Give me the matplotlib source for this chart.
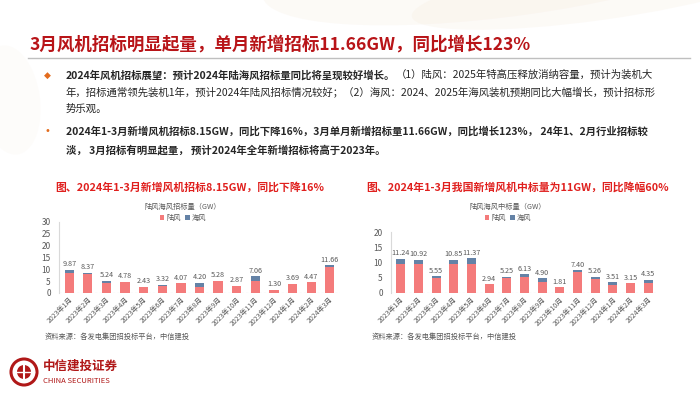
import numpy as np
import matplotlib
matplotlib.use("Agg")
import matplotlib.pyplot as plt
from matplotlib.patches import Ellipse, Circle

plt.rcParams['font.family'] = ['Noto Sans CJK SC', 'DejaVu Sans']
plt.rcParams['axes.unicode_minus'] = False

# ---- data ----
months = ["2023年1月", "2023年2月", "2023年3月", "2023年4月", "2023年5月", "2023年6月",
          "2023年7月", "2023年8月", "2023年9月", "2023年10月", "2023年11月", "2023年12月",
          "2024年1月", "2024年2月", "2024年3月"]

# left chart: tendering volume (GW)
tender_total = [9.87, 8.37, 5.24, 4.78, 2.43, 3.32, 4.07, 4.20, 5.28, 2.87, 7.06, 1.30, 3.69, 4.47, 11.66]
tender_offshore = [1.5, 0.3, 1.2, 0.0, 0.0, 0.5, 0.0, 1.5, 0.0, 0.0, 1.8, 0.0, 0.0, 0.0, 0.5]
tender_onshore = [round(t - o, 2) for t, o in zip(tender_total, tender_offshore)]

# right chart: winning bid volume (GW)
win_total = [11.24, 10.92, 5.55, 10.85, 11.37, 2.94, 5.25, 6.13, 4.90, 1.81, 7.40, 5.26, 3.51, 3.15, 4.35]
win_offshore = [1.7, 1.4, 0.5, 1.5, 1.8, 0.0, 0.2, 1.0, 1.3, 0.0, 0.5, 0.8, 0.8, 0.0, 1.0]
win_onshore = [round(t - o, 2) for t, o in zip(win_total, win_offshore)]

ON_COLOR = "#F47B7B"
OFF_COLOR = "#6482A6"
TXT = "#262626"
GREY = "#595959"

W, H = 700, 394
fig = plt.figure(figsize=(7, 3.94), dpi=100)
fig.patch.set_facecolor("white")


def fx(px):
    return px / W


def fy(py):
    return 1 - py / H


# faint decorative swoosh at the top
bg = fig.add_axes([0, 0, 1, 1], zorder=-5)
bg.set_xlim(0, W)
bg.set_ylim(H, 0)
bg.axis("off")
for cx, cy, w, h, a in [(520, -40, 520, 110, 0.2), (600, -10, 380, 60, 0.2), (10, 100, 60, 110, 0.1)]:
    bg.add_patch(Ellipse((cx, cy), w, h, angle=-8, facecolor="#F3E6D6", edgecolor="none", alpha=a))

# slide title
fig.text(fx(30), fy(45), "3月风机招标明显起量，单月新增招标11.66GW，同比增长123%",
         fontsize=12.6, fontweight="bold", color="#B81418", va="center", ha="left")
bg.plot([28, 690], [58, 58], color="#BFBFBF", lw=1.0)

renderer = fig.canvas.get_renderer()


def mixed_line(x, y, parts, size=7.5):
    """write bold/regular pieces one after the other on a line"""
    cur = x
    for s, bold in parts:
        t = fig.text(fx(cur), fy(y), s, fontsize=size, color=TXT, va="center", ha="left",
                     fontweight="bold" if bold else "normal")
        bb = t.get_window_extent(renderer=renderer)
        cur += bb.width


# bullet 1
fig.text(fx(47), fy(75), "◆", fontsize=6.5, color="#E36C1E", va="center", ha="center",
         family=["DejaVu Sans"])
mixed_line(66, 75, [("2024年风机招标展望：预计2024年陆海风招标量同比将呈现较好增长。", True),
                    ("（1）陆风：2025年特高压释放消纳容量，预计为装机大", False)])
mixed_line(66, 92, [("年，招标通常领先装机1年，预计2024年陆风招标情况较好；（2）海风：2024、2025年海风装机预期同比大幅增长，预计招标形", False)])
mixed_line(66, 109, [("势乐观。", False)])

# bullet 2
fig.text(fx(47), fy(131), "•", fontsize=7, color="#E36C1E", va="center", ha="center",
         family=["DejaVu Sans"])
mixed_line(66, 131, [("2024年1-3月新增风机招标8.15GW，同比下降16%，3月单月新增招标量11.66GW，同比增长123%， 24年1、2月行业招标较", True)])
mixed_line(66, 150, [("淡， 3月招标有明显起量， 预计2024年全年新增招标将高于2023年。", True)])


def bar_chart(rect, on, off, total, ymax, title, tx, subtitle, sx, source_x):
    ax = fig.add_axes(rect)
    x = np.arange(len(months))
    ax.bar(x, on, width=0.5, color=ON_COLOR, label="陆风", zorder=2)
    ax.bar(x, off, width=0.5, bottom=on, color=OFF_COLOR, label="海风", zorder=2)
    for xi, t in zip(x, total):
        ax.text(xi, t + ymax * 0.025, f"{t:.2f}", ha="center", va="bottom", fontsize=5.2, color=GREY)
    ax.set_xlim(-0.55, len(months) - 0.45)
    ax.set_ylim(0, ymax)
    ax.set_yticks(np.arange(0, ymax + 1, 5))
    ax.set_xticks(x)
    ax.set_xticklabels(months, rotation=45, ha="right", rotation_mode="anchor", fontsize=5, color=GREY)
    ax.tick_params(axis="y", labelsize=6, colors=GREY, length=0, pad=6)
    ax.tick_params(axis="x", length=0, pad=2)
    for s in ["top", "right", "bottom"]:
        ax.spines[s].set_visible(False)
    ax.spines["left"].set_color("#D9D9D9")
    ax.spines["left"].set_linewidth(0.8)
    ax.axhline(0, color="#BFBFBF", lw=0.8, ls=(0, (2, 2)), zorder=1)
    ax.set_facecolor("none")

    fig.text(fx(tx), fy(187), title, fontsize=7.8, fontweight="bold", color="#E0201E",
             ha="center", va="center")
    fig.text(fx(sx), fy(207), subtitle, fontsize=5.2, color=GREY, ha="center", va="center")
    handles, labels = ax.get_legend_handles_labels()
    fig.legend(handles, labels, loc="center", bbox_to_anchor=(fx(sx), fy(218)), ncol=2, frameon=False,
               fontsize=5.2, handlelength=0.6, handleheight=0.6, columnspacing=0.6, handletextpad=0.3,
               labelcolor=GREY)
    fig.text(fx(source_x), fy(337), "资料来源：各发电集团招投标平台，中信建投", fontsize=5.2, color=GREY,
             ha="left", va="center", style="italic")
    return ax


bar_chart([fx(59), fy(293), fx(281), (293 - 222) / H], tender_onshore, tender_offshore, tender_total, 30,
          "图、2024年1-3月新增风机招标8.15GW，同比下降16%", 190, "陆风海风招标量（GW）", 183, 45)
bar_chart([fx(391), fy(293), fx(267), (293 - 232) / H], win_onshore, win_offshore, win_total, 20,
          "图、2024年1-3月我国新增风机中标量为11GW，同比降幅60%", 518, "陆风海风中标量（GW）", 508, 372)

# company logo, bottom left
bg.add_patch(Circle((24, 372), 13, facecolor="none", edgecolor="#B01818", lw=2.2))
bg.add_patch(Circle((24, 372), 7, facecolor="#B01818", edgecolor="none"))
bg.plot([24, 24], [362, 382], color="white", lw=1.5)
bg.plot([14, 34], [372, 372], color="white", lw=1.0)
fig.text(fx(43), fy(366), "中信建投证券", fontsize=9, fontweight="bold", color="#B01818", va="center", ha="left")
fig.text(fx(43), fy(381), "CHINA SECURITIES", fontsize=5.5, color="#B01818", va="center", ha="left")

fig.savefig("out.png", dpi=100, facecolor="white")
